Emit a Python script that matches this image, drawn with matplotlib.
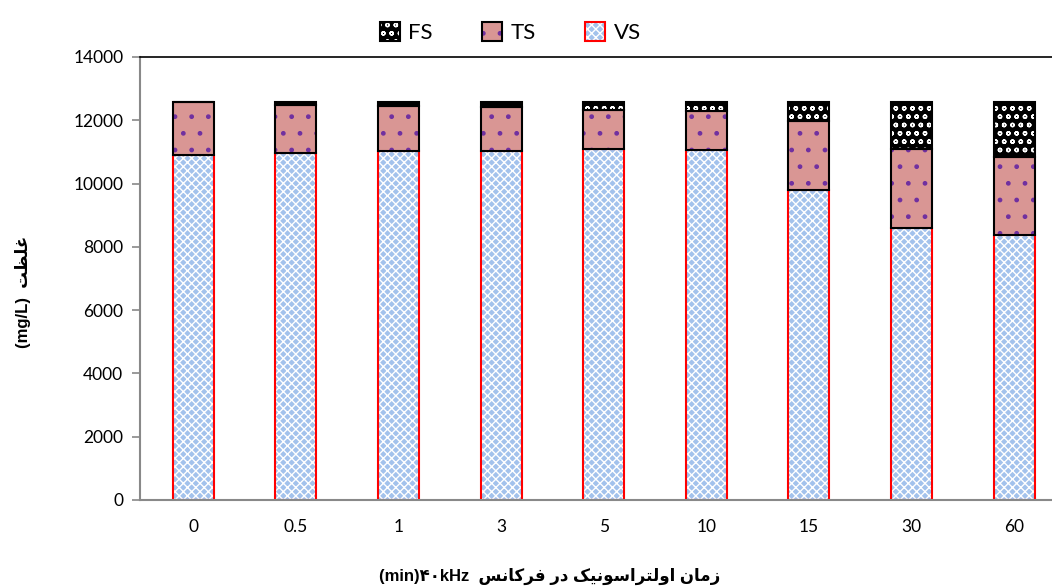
import numpy as np
import matplotlib
matplotlib.use('Agg')
import matplotlib.pyplot as plt
from matplotlib.patches import Patch
from matplotlib.legend_handler import HandlerTuple

# data (mg/L)
times = ['0', '0.5', '1', '3', '5', '10', '15', '30', '60']
ts = [12580, 12580, 12580, 12580, 12580, 12580, 12580, 12580, 12580]
vs = [10900, 10960, 11020, 11020, 11080, 11050, 9800, 8590, 8380]
fs = [0, 100, 140, 170, 265, 300, 610, 1500, 1740]

# labels (Persian written in presentation forms, visual order)
ylabel = '(mg/L)  \uFE96\uFEC8\uFEE0\uFECF'
xlabel = ('(min)\u06F4\u06F0kHz  '
          '\uFEB2\uFEE7\uFE8E\uFB90\uFEAE\uFED3 '
          '\uFEAD\uFEA9 '
          '\uFB8F\uFEF4\uFEE7\uFEEE\uFEB3\uFE8D\uFEAE\uFE98\uFEDF\uFEED\uFE8D '
          '\uFEE5\uFE8E\uFEE3\uFEAF')

plt.rcParams['hatch.linewidth'] = 1.0

x = np.arange(len(times))
ts = np.array(ts)
vs = np.array(vs)
fs = np.array(fs)
mid = ts - fs - vs
w = 0.4

fig = plt.figure(figsize=(10.52, 5.86), dpi=100)
ax = fig.add_axes([0.1331, 0.1468, 0.8669, 0.7560])

# VS
ax.bar(x, vs, w, color='#a3c2ec', edgecolor='white', hatch='xxxx', linewidth=0)
ax.bar(x, vs, w, fill=False, edgecolor='#ff0000', linewidth=1.5)
# TS
ax.bar(x, mid, w, bottom=vs, color='#d99694', edgecolor='#7030a0', hatch='.', linewidth=0)
ax.bar(x, mid, w, bottom=vs, fill=False, edgecolor='black', linewidth=1.5)
# FS
ax.bar(x, fs, w, bottom=vs + mid, color='black', edgecolor='white', hatch='oo', linewidth=0)
ax.bar(x, fs, w, bottom=vs + mid, fill=False, edgecolor='black', linewidth=1.5)

ax.set_xlim(-0.52, 8.37)
ax.set_ylim(0, 14000)
ax.set_yticks(range(0, 14001, 2000))
ax.set_xticks(x)
ax.set_xticklabels(times)

for s in ['left', 'bottom']:
    ax.spines[s].set_color('#898989')
    ax.spines[s].set_linewidth(1.5)
ax.spines['top'].set_color('black')
ax.spines['top'].set_linewidth(1.2)
ax.spines['right'].set_visible(False)
ax.tick_params(axis='y', length=6, width=1.2, color='#898989', labelsize=12.5, pad=6)
ax.tick_params(axis='x', length=0, labelsize=12.5, pad=14)
for lab in ax.get_xticklabels() + ax.get_yticklabels():
    lab.set_family(['Lato', 'DejaVu Sans'])

lab_font = dict(family=['Liberation Sans', 'DejaVu Sans'], fontweight='bold', fontsize=12)
fig.text(23 / 1052, 1 - 292 / 586, ylabel, rotation=90, ha='center', va='center', **lab_font)
fig.text(550 / 1052, 1 - 576 / 586, xlabel, ha='center', va='center', **lab_font)

def h(fc, hc, hatch, ec):
    return (Patch(facecolor=fc, edgecolor=hc, hatch=hatch, linewidth=0),
            Patch(fill=False, edgecolor=ec, linewidth=1.5))

handles = [h('black', 'white', 'oo', 'black'),
           h('#d99694', '#7030a0', '.', 'black'),
           h('#a3c2ec', 'white', 'xxxx', '#ff0000')]
fig.legend(handles, ['FS', 'TS', 'VS'], loc='center', bbox_to_anchor=(0.485, 0.944),
           ncol=3, frameon=False, handler_map={tuple: HandlerTuple(ndivide=1, pad=0)},
           handlelength=0.9, handleheight=0.9, handletextpad=0.4, columnspacing=2.2,
           prop={'family': ['Lato', 'DejaVu Sans'], 'size': 16})

fig.savefig('out.png', dpi=100)
plt.close(fig)
